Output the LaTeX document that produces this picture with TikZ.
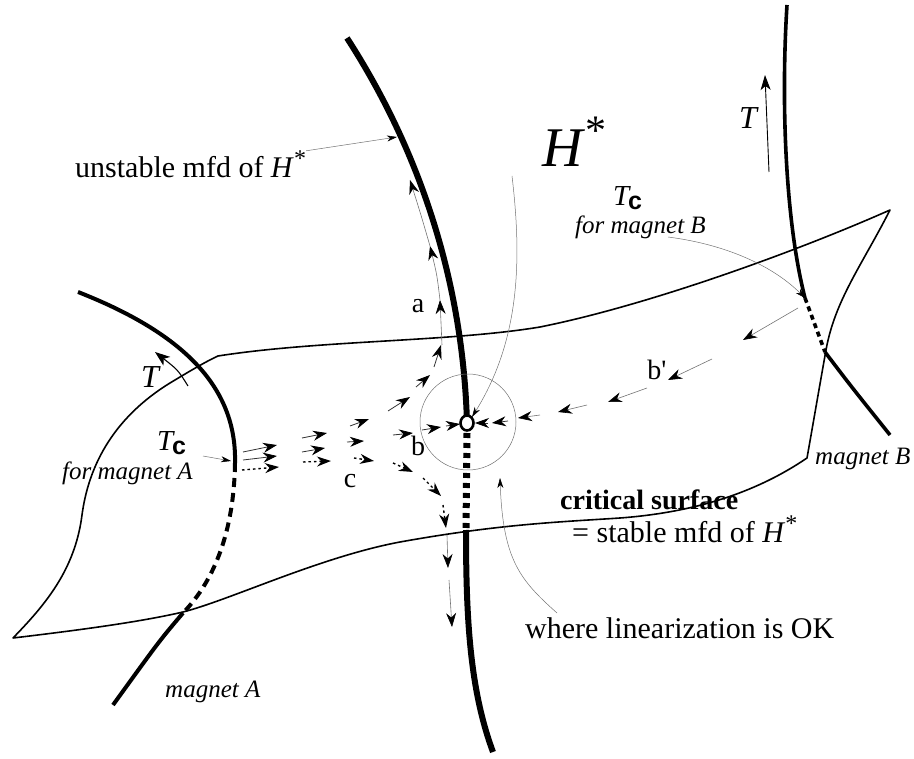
\documentclass[tikz,border=0pt]{standalone}
\usepackage{fontspec}
\setmainfont{Liberation Serif}
\setsansfont{Liberation Sans}
\usetikzlibrary{arrows.meta}
\begin{document}
\begin{tikzpicture}[x=1pt,y=-1pt,
  surf/.style={line width=1.6pt, line join=round},
  mfd/.style={line width=6pt},
  magA/.style={line width=4pt},
  magB/.style={line width=3.6pt},
  lead/.style={line width=0.5pt, draw=black!55, -{Stealth[length=10pt,width=6pt,inset=3pt,color=black]}},
  fl/.style={line width=0.8pt, draw=black!80, -{Stealth[length=14pt,width=10pt,inset=4.5pt,color=black]}},
  fld/.style={fl, line width=1.4pt, draw=black, dash pattern=on 2.5pt off 3pt},
  thinfl/.style={fl, draw=black!55, line width=0.6pt},
  main/.style={font=\fontsize{30}{32}\selectfont, inner sep=0pt},
  letter/.style={font=\fontsize{28}{30}\selectfont, inner sep=0pt},
  ital/.style={font=\fontsize{25}{27}\selectfont\itshape, inner sep=0pt},
  tclbl/.style={inner sep=0pt, anchor=base west},
]
\useasboundingbox (0,0) rectangle (914,759);

% critical surface outline
\draw[surf] (218,356) .. controls (320,340) and (450,342) .. (540,327)
  .. controls (650,305) and (800,250) .. (890,210)
  .. controls (862,265) and (835,300) .. (826,350)
  .. controls (818,395) and (812,430) .. (807,458)
  .. controls (760,490) and (700,512) .. (620,518)
  .. controls (560,522) and (500,524) .. (400,542)
  .. controls (320,557) and (230,600) .. (183,612)
  .. controls (140,622) and (80,630) .. (13,638)
  .. controls (45,605) and (75,570) .. (82,515)
  .. controls (88,470) and (110,420) .. (170,383)
  .. controls (190,371) and (205,362) .. cycle;

% key points
\coordinate (Hs) at (467,423);
\coordinate (TcA) at (235,463);
\coordinate (TcB) at (805,298);

% unstable manifold of H*
\draw[mfd] (347,38) .. controls (400,120) and (462,250) .. (Hs);
\draw[line width=7pt, dash pattern=on 5pt off 5pt] (467,433) -- (466,530);
\draw[mfd] (466,530) .. controls (466,620) and (470,690) .. (493,752);

% magnet A curve
\draw[magA] (78,292) .. controls (180,332) and (237,385) .. (TcA);
\draw[magA, dash pattern=on 9pt off 6pt] (TcA) .. controls (234,530) and (215,580) .. (183,613);
\draw[magA] (183,613) .. controls (160,640) .. (113,705);

% magnet B curve
\draw[magB] (787,5) .. controls (781,100) and (785,220) .. (TcB);
\draw[magB, dash pattern=on 5pt off 4pt] (TcB) -- (825,352);
\draw[magB] (825,352) .. controls (850,385) .. (890,435);

% region where linearization is OK
\draw[line width=0.5pt, draw=black!55] (468,422) circle[radius=48];

% flow: trajectory a
\draw[fl] (243,452) -- (277,445);
\draw[fl] (302,438) -- (327,433);
\draw[fl] (350,426) -- (369,419);
\draw[fl] (388,411) -- (410,397);
\draw[fl] (416,387) -- (430,375);
\draw[fl] (434,367) -- (441,345);
\draw[thinfl] (442,345) -- (440,300);
\draw[thinfl] (440,300) .. controls (437,275) .. (430,246);
\draw[thinfl] (430,246) .. controls (421,215) .. (410,180);

% flow: trajectory b
\draw[fl] (243,460) -- (277,456);
\draw[fl] (302,452) -- (325,448);
\draw[fl] (347,442) -- (364,441);
\draw[fl] (393,435) -- (413,433);
\draw[fl] (422,430) -- (441,427);
\draw[fl] (446,426) -- (460,424);

% flow: trajectory c
\draw[fld] (242,470) -- (279,467);
\draw[fld] (303,462) -- (331,461);
\draw[fld] (354,458) -- (374,461);
\draw[fld] (393,463) -- (413,472);
\draw[fld] (423,478) -- (441,496);
\draw[fld] (443,505) -- (446,528);
\draw[thinfl] (447,535) -- (448,568);
\draw[thinfl] (449,580) -- (452,627);

% flow: trajectory b'
\draw[thinfl] (798,308) -- (743,340);
\draw[thinfl] (712,359) -- (668,380);
\draw[thinfl] (647,388) -- (608,402);
\draw[thinfl] (587,405) -- (558,412);
\draw[thinfl] (540,415) -- (518,418);
\draw[fl] (508,421) -- (492,423);
\draw[fl] (488,423) -- (475,423);

% H* fixed point
\draw[line width=2.6pt, fill=white] (Hs) ellipse[x radius=6.5, y radius=7.5];

% T arrows
\draw[line width=0.9pt, -{Stealth[length=15pt,width=10pt,inset=4pt]}] (769,172) -- (765,75);
\draw[line width=1.1pt, -{Stealth[length=15pt,width=11pt,inset=4pt]}] (188,386) .. controls (178,370) .. (155,352);

% labels
\node[main, anchor=base west] (lunst) at (75,178) {unstable mfd of \textit{H}\raisebox{11pt}{\fontsize{24}{24}\selectfont *}};
\node[font=\fontsize{56}{58}\selectfont, inner sep=0pt, anchor=base west] (lH) at (542,167) {\textit{H}\raisebox{22pt}{\fontsize{42}{42}\selectfont *}};
\node[font=\fontsize{32}{34}\selectfont\itshape, inner sep=0pt] (lTB) at (748,118) {T};
\node[font=\fontsize{32}{34}\selectfont\itshape, inner sep=0pt] (lTA) at (150,377) {T};
\node[letter] (la) at (418,306) {a};
\node[letter] (lb) at (418,446) {b};
\node[letter] (lc) at (350,481) {c};
\node[letter] (lbp) at (657,370) {b\textquotesingle};
\node[tclbl] (lTcB) at (613,206) {\fontsize{29}{30}\selectfont\textit{T}\kern-3pt\raisebox{-4pt}{\fontsize{25}{26}\sffamily\bfseries c}};
\node[ital, anchor=base west] (lforB) at (575,234) {for magnet B};
\node[tclbl] (lTcA) at (157,451) {\fontsize{29}{30}\selectfont\textit{T}\kern-3pt\raisebox{-4pt}{\fontsize{25}{26}\sffamily\bfseries c}};
\node[ital, anchor=base west] (lforA) at (62,479) {for magnet A};
\node[ital, anchor=base west] (lmagA) at (165,697) {magnet A};
\node[ital, anchor=base west] (lmagB) at (815,465) {magnet B};
\node[main, font=\fontsize{28}{30}\selectfont\bfseries, anchor=base west] (lcrit) at (560,510) {critical surface};
\node[main, anchor=base west] (lstab) at (572,543) {= stable mfd of \textit{H}\raisebox{11pt}{\fontsize{24}{24}\selectfont *}};
\node[main, anchor=base west] (llin) at (525,638) {where linearization is OK};

% leaders
\draw[lead] (lunst.east) ++(0,-14) -- (397,137);
\draw[lead] (512,176) .. controls (522,260) and (520,340) .. (472,417);
\draw[lead] (668,237) .. controls (730,245) and (775,268) .. (TcB);
\draw[lead] (203,456) -- (231,461);
\draw[lead] (557,613) .. controls (520,580) and (503,560) .. (500,478);
\end{tikzpicture}
\end{document}
